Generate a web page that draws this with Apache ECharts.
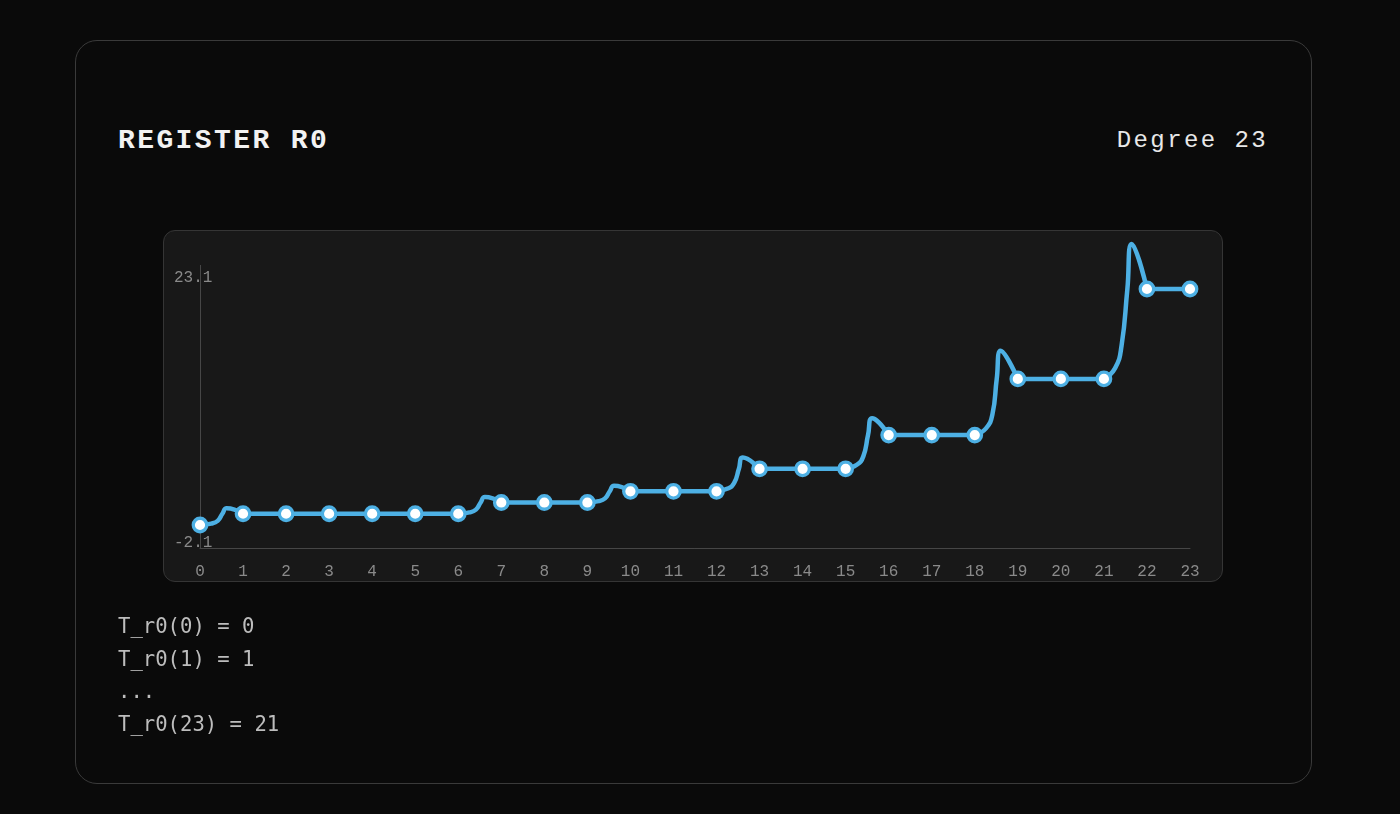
<!DOCTYPE html>
<html>
<head>
<meta charset="utf-8">
<script src="https://cdn.jsdelivr.net/npm/echarts@6/dist/echarts.min.js"></script>
<style>
  html, body { margin: 0; padding: 0; background: #0a0a0a; width: 1400px; height: 814px; overflow: hidden; }
  #card { position: absolute; left: 75px; top: 40px; width: 1237px; height: 744px; border: 1px solid #3a3a3a; border-radius: 22px; background: #0a0a0a; box-sizing: border-box; }
  #title { position: absolute; left: 118px; top: 122px; font-family: "Liberation Mono", monospace; font-weight: bold; font-size: 28px; letter-spacing: 2.4px; color: #f2f2f2; line-height: 38px; }
  #degree { position: absolute; right: 132px; top: 122px; font-family: "Liberation Mono", monospace; font-size: 24px; letter-spacing: 2.4px; color: #e8e8e8; line-height: 38px; }
  #panel { position: absolute; left: 163px; top: 230px; width: 1060px; height: 352px; background: #181818; border: 1px solid #353535; border-radius: 12px; box-sizing: border-box; }
  #chart { position: absolute; left: 0; top: 0; width: 1400px; height: 814px; }
  #notes { position: absolute; left: 118px; top: 610px; font-family: "DejaVu Sans Mono", monospace; font-size: 20.6px; color: #bdbdbd; line-height: 32.5px; white-space: pre; }
</style>
</head>
<body>
<div id="card"></div>
<div id="title">REGISTER R0</div>
<div id="degree">Degree 23</div>
<div id="panel"></div>
<div id="chart"></div>
<div id="notes"></div>
<script>
// ---- data ----
const xLabels = ['0','1','2','3','4','5','6','7','8','9','10','11','12','13','14','15','16','17','18','19','20','21','22','23'];
const registerValues = [0,1,1,1,1,1,1,2,2,2,3,3,3,5,5,5,8,8,8,13,13,13,21,21];
// intermediate points of the drawn curve (x, value) in each step
const transition0to1 = [[0.26,0.12],[0.41,0.37],[0.52,1.0],[0.62,1.5]];
const transition6to7 = [[6.26,1.12],[6.41,1.37],[6.52,2.0],[6.62,2.5]];
const transition9to10 = [[9.26,2.12],[9.41,2.37],[9.52,3.0],[9.62,3.5]];
const transition12to13 = [[12.26,3.24],[12.41,3.74],[12.52,5.0],[12.61,6.0]];
const transition15to16 = [[15.26,5.36],[15.41,6.11],[15.52,8.0],[15.615,9.5]];
const transition18to19 = [[18.26,8.6],[18.41,9.85],[18.51,13.0],[18.6,15.5]];
const transition21to22 = [[21.26,13.96],[21.41,15.96],[21.545,21.0],[21.645,25.0]];
const yMin = -2.1;
const yMax = 23.1;
const noteLines = ['T_r0(0) = 0', 'T_r0(1) = 1', '...', 'T_r0(23) = 21'];

document.getElementById('notes').textContent = noteLines.join('\n');

// build the drawn path: each step is its own smooth piece, flat runs are straight
const transitionsByStart = { 0: transition0to1, 6: transition6to7, 9: transition9to10, 12: transition12to13, 15: transition15to16, 18: transition18to19, 21: transition21to22 };
const curve = [];
let flatRun = [];
for (let i = 0; i < registerValues.length; i++) {
  flatRun.push([i, registerValues[i]]);
  const t = transitionsByStart[i];
  if (t) {
    if (flatRun.length > 1) { flatRun.forEach(p => curve.push(p)); curve.push('-'); }
    curve.push([i, registerValues[i]]);
    t.forEach(p => curve.push(p));
    curve.push([i + 1, registerValues[i + 1]]);
    curve.push('-');
    flatRun = [];
  }
}
if (flatRun.length > 1) flatRun.forEach(p => curve.push(p));
const points = registerValues.map((v, i) => [i, v]);

const chart = echarts.init(document.getElementById('chart'), null, { renderer: 'canvas' });
const lineColor = '#4db0e4';
const labelFont = 'Liberation Mono, monospace';
chart.setOption({
  backgroundColor: 'transparent',
  animation: false,
  grid: { left: 200, right: 210, top: 265.4, bottom: 265.4, containLabel: false },
  xAxis: {
    type: 'value', min: 0, max: 23, interval: 1,
    axisLine: { show: true, onZero: false, lineStyle: { color: '#464646', width: 1 } },
    axisTick: { show: false },
    splitLine: { show: false },
    axisLabel: {
      color: '#8a8a8a', fontFamily: labelFont, fontSize: 16, margin: 15,
      formatter: v => xLabels[Math.round(v)]
    }
  },
  yAxis: {
    type: 'value', min: yMin, max: yMax, interval: yMax - yMin,
    axisLine: { show: true, onZero: false, lineStyle: { color: '#464646', width: 1 } },
    axisTick: { show: false },
    splitLine: { show: false },
    axisLabel: {
      color: '#8a8a8a', fontFamily: labelFont, fontSize: 16,
      align: 'left', margin: 26,
      verticalAlignMinLabel: 'bottom', verticalAlignMaxLabel: 'top',
      formatter: v => (v > 0 ? '{hi|' : '{lo|') + v.toFixed(1) + '}',
      rich: {
        hi: { color: '#8a8a8a', fontFamily: labelFont, fontSize: 16, lineHeight: 25 },
        lo: { color: '#8a8a8a', fontFamily: labelFont, fontSize: 16, lineHeight: 11 }
      }
    }
  },
  series: [
    {
      type: 'line', data: curve, smooth: 0.5, symbol: 'none', clip: false, connectNulls: false,
      lineStyle: { color: lineColor, width: 4.5, cap: 'round', join: 'round' }, z: 2
    },
    {
      type: 'scatter', data: points, symbol: 'circle', symbolSize: 13.5, clip: false,
      itemStyle: { color: '#ffffff', borderColor: lineColor, borderWidth: 3.3, opacity: 1 }, z: 3
    }
  ]
});
</script>
</body>
</html>
